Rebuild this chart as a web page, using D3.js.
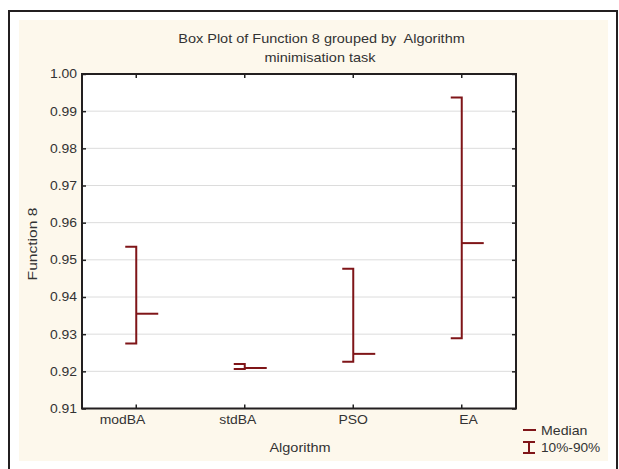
<!DOCTYPE html>
<html>
<head>
<meta charset="utf-8">
<script src="https://cdn.jsdelivr.net/npm/d3@7"></script>
<style>
  body { margin: 0; background: #fff; }
  text { font-family: "Liberation Sans", Arial, sans-serif; fill: #333; }
</style>
</head>
<body>
<svg id="chart" width="619" height="469"></svg>
<script>
// values
var algorithms = ["modBA", "stdBA", "PSO", "EA"];
var p10 = [0.9275, 0.9206, 0.9226, 0.9289];
var p90 = [0.9535, 0.9220, 0.9476, 0.9937];
var medians = [0.9355, 0.9209, 0.9247, 0.9545];
var yTicks = [0.91, 0.92, 0.93, 0.94, 0.95, 0.96, 0.97, 0.98, 0.99, 1.00];

var red = "#7f1518";
var stretch = 1.16; // text in the original is a bit wider than Arial

var svg = d3.select("#chart");

// outer frame + cream panel
svg.append("rect").attr("x", 19).attr("y", 20).attr("width", 589).attr("height", 441)
    .attr("fill", "#fdf8ec");
svg.append("path").attr("d", "M9,475 L9,11 L617,11 L617,475")
    .attr("fill", "none").attr("stroke", "#231f20").attr("stroke-width", 2);

function addText(x, y, str, size, anchor, rot, sx) {
    return svg.append("text")
        .attr("transform", "translate(" + x + "," + y + ")" + (rot ? " rotate(" + rot + ")" : "") +
            " scale(" + (sx || stretch) + ",1)")
        .attr("text-anchor", anchor || "middle")
        .attr("font-size", size)
        .style("white-space", "pre")
        .text(str);
}

var margin = {left: 82, right: 516, top: 74, bottom: 408.5};

var x = d3.scaleBand().domain(algorithms).range([margin.left, margin.right]).padding(0);
// category names sit on a slightly wider spread than the ticks
var xLab = d3.scalePoint().domain(algorithms).range([122, 468]);
var y = d3.scaleLinear().domain([0.91, 1.00]).range([margin.bottom, margin.top]);

var g = svg.append("g");

g.append("rect")
    .attr("x", margin.left).attr("y", margin.top)
    .attr("width", margin.right - margin.left).attr("height", margin.bottom - margin.top)
    .attr("fill", "#fff");

// grid
g.selectAll(".grid")
    .data(yTicks.slice(1, -1))
    .enter().append("line")
    .attr("x1", margin.left).attr("x2", margin.right)
    .attr("y1", function(d) { return y(d); })
    .attr("y2", function(d) { return y(d); })
    .attr("stroke", "#dcdcdc").attr("stroke-width", 1);

// axes
var fmt = d3.format(".2f");
var yAxis = g.append("g")
    .attr("transform", "translate(" + margin.left + ",0)")
    .call(d3.axisLeft(y).tickValues(yTicks).tickFormat(fmt).tickSizeInner(-4).tickSizeOuter(0).tickPadding(5));
var yAxisR = g.append("g")
    .attr("transform", "translate(" + margin.right + ",0)")
    .call(d3.axisRight(y).tickValues(yTicks).tickFormat("").tickSizeInner(-4).tickSizeOuter(0));
var xAxis = g.append("g")
    .attr("transform", "translate(0," + margin.bottom + ")")
    .call(d3.axisBottom(x).tickFormat("").tickSizeInner(-4).tickSizeOuter(0));
var xAxisT = g.append("g")
    .attr("transform", "translate(0," + margin.top + ")")
    .call(d3.axisTop(x).tickFormat("").tickSizeInner(-4).tickSizeOuter(0));
var xLabels = g.append("g")
    .attr("transform", "translate(0," + margin.bottom + ")")
    .call(d3.axisBottom(xLab).tickSize(0).tickPadding(6.5));
xLabels.selectAll(".tick line").remove();

[yAxis, yAxisR, xAxis, xAxisT, xLabels].forEach(function(a) {
    a.select(".domain").remove();
    a.selectAll(".tick line").attr("stroke", "#222").attr("stroke-width", 1.5);
    a.selectAll("text").attr("font-size", 12).attr("fill", "#333")
        .attr("font-family", "Liberation Sans, Arial, sans-serif")
        .attr("transform", "scale(" + stretch + ",1)");
});
// keep the y labels' right edge where it was before stretching
yAxis.selectAll("text").attr("x", -5 / stretch);

g.append("rect")
    .attr("x", margin.left).attr("y", margin.top)
    .attr("width", margin.right - margin.left).attr("height", margin.bottom - margin.top)
    .attr("fill", "none").attr("stroke", "#231f20").attr("stroke-width", 2);

// whisker brackets
var box = g.selectAll(".box")
    .data(algorithms)
    .enter().append("g")
    .attr("class", "box");

box.append("path")
    .attr("d", function(d, i) {
        var cx = x(d) + x.bandwidth() / 2;
        return "M" + (cx - 11) + "," + y(p90[i]) + "H" + cx + "V" + y(p10[i]) + "H" + (cx - 11);
    })
    .attr("fill", "none").attr("stroke", red).attr("stroke-width", 2);

box.append("line")
    .attr("x1", function(d) { return x(d) + x.bandwidth() / 2; })
    .attr("x2", function(d) { return x(d) + x.bandwidth() / 2 + 22; })
    .attr("y1", function(d, i) { return y(medians[i]); })
    .attr("y2", function(d, i) { return y(medians[i]); })
    .attr("stroke", red).attr("stroke-width", 2);

// titles
addText(321.5, 43, "Box Plot of Function 8 grouped by  Algorithm", 12.5);
addText(320, 61.5, "minimisation task", 12.5);
addText(300, 452, "Algorithm", 12.5);
addText(37, 244, "Function 8", 12, "middle", -90, 1.3);

// legend
var lg = svg.append("g");
lg.append("line").attr("x1", 523).attr("x2", 536).attr("y1", 430).attr("y2", 430)
    .attr("stroke", red).attr("stroke-width", 2);
addText(541, 435, "Median", 12, "start", 0, 1.18);
lg.append("path").attr("d", "M523,442H535M529,442V453M523,453H535")
    .attr("fill", "none").attr("stroke", red).attr("stroke-width", 2);
addText(541, 452, "10%-90%", 12, "start", 0, 1.14);
</script>
</body>
</html>
